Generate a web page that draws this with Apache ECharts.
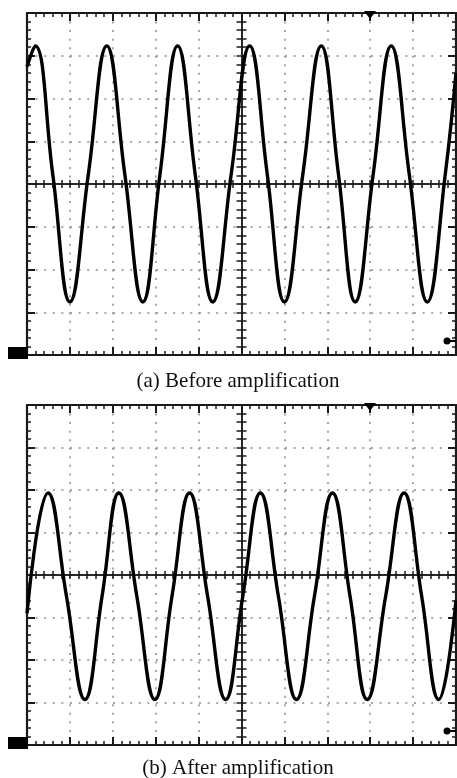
<!DOCTYPE html>
<html><head><meta charset="utf-8">
<script src="https://cdn.jsdelivr.net/npm/echarts@6/dist/echarts.min.js"></script>
<style>html,body{margin:0;padding:0;background:#fff}#c{width:457px;height:778px}</style>
</head><body><div id="c"></div><script>
// Waveform (a): time in divisions, voltage in divisions
const topTime = [0, 0.19, 0.6, 1.0, 1.43, 1.86, 2.28, 2.70, 3.1, 3.51, 3.92, 4.33, 4.76, 5.19, 5.6, 6.0, 6.43, 6.86, 7.26, 7.65, 8.07, 8.49, 8.91, 9.33, 9.75, 10];
const topVolt = [2.74, 3.23, 0.23, -2.76, 0.23, 3.23, 0.23, -2.76, 0.23, 3.23, 0.23, -2.76, 0.23, 3.23, 0.23, -2.76, 0.23, 3.23, 0.23, -2.76, 0.23, 3.23, 0.23, -2.76, 0.23, 2.6];
// Waveform (b)
const botTime = [0, 0.49, 0.92, 1.35, 1.75, 2.14, 2.56, 2.98, 3.38, 3.79, 4.21, 4.63, 5.03, 5.44, 5.86, 6.28, 6.70, 7.12, 7.53, 7.93, 8.36, 8.79, 9.20, 9.60, 10];
const botVolt = [-0.9, 1.93, -0.5, -2.93, -0.5, 1.93, -0.5, -2.93, -0.5, 1.93, -0.5, -2.93, -0.5, 1.93, -0.5, -2.93, -0.5, 1.93, -0.5, -2.93, -0.5, 1.93, -0.5, -2.93, -0.6];
const captions = ['(a) Before amplification', '(b) After amplification'];
const xRange = [0, 10];
const yRange = [-4, 4];

const panels = [
  {left: 27, top: 13, width: 429, height: 342},
  {left: 27, top: 405, width: 429, height: 340}
];
const FRAME = '#1a1a1a';
const grids = [], xAxes = [], yAxes = [];
function frameTicks(inside) {
  return {
    axisTick: {show: true, inside: inside, length: 8, lineStyle: {color: FRAME, width: 2}},
    minorTick: {show: true, splitNumber: 5, length: 4, lineStyle: {color: FRAME, width: 1.5}}
  };
}
panels.forEach((p, pi) => {
  for (let k = 0; k < 4; k++) grids.push(Object.assign({containLabel: false}, p));
  const g = pi * 4;
  xAxes.push(Object.assign({type: 'value', gridIndex: g, min: xRange[0], max: xRange[1], interval: 1, position: 'bottom',
    axisLine: {show: true, onZero: false, lineStyle: {color: FRAME, width: 2.2}},
    axisLabel: {show: false},
    splitLine: {show: true, lineStyle: {type: [2, 6.55], color: '#8a8a8a', width: 1.5}}}, frameTicks(true)));
  yAxes.push(Object.assign({type: 'value', gridIndex: g, min: yRange[0], max: yRange[1], interval: 1, position: 'left',
    axisLine: {show: true, onZero: false, lineStyle: {color: FRAME, width: 2.2}},
    axisLabel: {show: false},
    splitLine: {show: true, lineStyle: {type: [2, 6.6], color: '#8a8a8a', width: 1.5}}}, frameTicks(true)));
  xAxes.push(Object.assign({type: 'value', gridIndex: g + 1, min: xRange[0], max: xRange[1], interval: 1, position: 'top',
    axisLine: {show: true, onZero: false, lineStyle: {color: FRAME, width: 2.2}},
    axisLabel: {show: false}, splitLine: {show: false}}, frameTicks(true)));
  yAxes.push(Object.assign({type: 'value', gridIndex: g + 1, min: yRange[0], max: yRange[1], interval: 1, position: 'right',
    axisLine: {show: true, onZero: false, lineStyle: {color: FRAME, width: 2.2}},
    axisLabel: {show: false}, splitLine: {show: false}}, frameTicks(true)));
  [false, true].forEach((ins, j) => {
    const gi = g + 2 + j;
    xAxes.push({type: 'value', gridIndex: gi, min: -5, max: 5, interval: 1,
      axisLine: {show: true, onZero: true, lineStyle: {color: FRAME, width: 1.5}},
      axisTick: {show: true, inside: ins, length: 4, lineStyle: {color: FRAME, width: 1.5}},
      minorTick: {show: true, splitNumber: 5, length: 4, lineStyle: {color: FRAME, width: 1.5}},
      axisLabel: {show: false}, splitLine: {show: false}});
    yAxes.push({type: 'value', gridIndex: gi, min: yRange[0], max: yRange[1], interval: 1,
      axisLine: {show: true, onZero: true, lineStyle: {color: FRAME, width: 1.5}},
      axisTick: {show: true, inside: ins, length: 5, lineStyle: {color: FRAME, width: 1.5}},
      minorTick: {show: true, splitNumber: 5, length: 5, lineStyle: {color: FRAME, width: 1.5}},
      axisLabel: {show: false}, splitLine: {show: false}});
  });
});

function pairs(xs, ys) { return xs.map((x, i) => [x, ys[i]]); }

const graphic = [];
captions.forEach((t, i) => {
  graphic.push({type: 'text', x: 238, y: i === 0 ? 371 : 758, z: 10,
    style: {text: t, align: 'center', verticalAlign: 'top',
      font: '21px "Liberation Serif", "Times New Roman", serif', fill: '#111'}});
});
panels.forEach(p => {
  const bottom = p.top + p.height;
  graphic.push({type: 'rect', z: 10, shape: {x: 8, y: bottom - 8, width: 20, height: 12}, style: {fill: '#000'}});
  graphic.push({type: 'polygon', z: 10, shape: {points: [[364, p.top - 2], [376, p.top - 2], [370, p.top + 6]]}, style: {fill: '#000'}});
  graphic.push({type: 'circle', z: 10, shape: {cx: 447, cy: bottom - 14, r: 3.5}, style: {fill: '#000'}});
  graphic.push({type: 'line', z: 10, shape: {x1: 447, y1: bottom - 14, x2: 456, y2: bottom - 14}, style: {stroke: '#000', lineWidth: 2}});
});

const chart = echarts.init(document.getElementById('c'), null, {renderer: 'canvas'});
chart.setOption({
  animation: false,
  backgroundColor: '#fff',
  grid: grids,
  xAxis: xAxes,
  yAxis: yAxes,
  graphic: graphic,
  series: [
    {type: 'line', xAxisIndex: 0, yAxisIndex: 0, data: pairs(topTime, topVolt), smooth: 0.45, showSymbol: false,
      lineStyle: {color: '#000', width: 3.4}, z: 5},
    {type: 'line', xAxisIndex: 4, yAxisIndex: 4, data: pairs(botTime, botVolt), smooth: 0.45, showSymbol: false,
      lineStyle: {color: '#000', width: 3.4}, z: 5}
  ]
});
</script></body></html>
